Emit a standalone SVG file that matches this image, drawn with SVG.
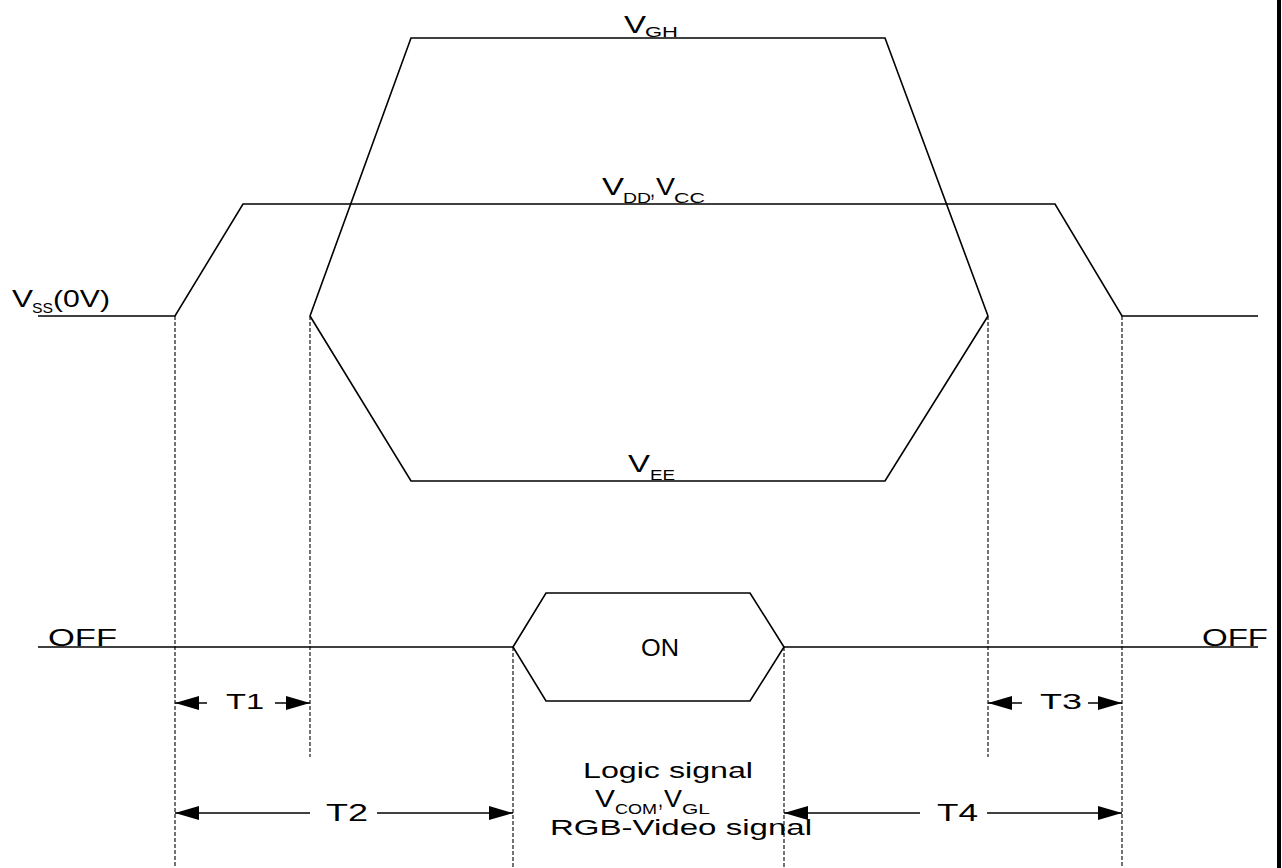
<svg xmlns="http://www.w3.org/2000/svg" width="1282" height="868" viewBox="0 0 1282 868">
<style>
.w{fill:none;stroke:#000;stroke-width:1.6}
.d{fill:none;stroke:#000;stroke-width:1.1;stroke-dasharray:4 2}
.a{fill:none;stroke:#000;stroke-width:1.5}
text{font-family:"Liberation Sans",Arial,sans-serif;fill:#000}
.m{font-size:24px}
.s{font-size:15px}
.t{font-size:22px}
</style>
<defs>
<marker id="ah" markerUnits="userSpaceOnUse" markerWidth="26" markerHeight="16" refX="24" refY="7" orient="auto">
<path d="M0,0 L24,7 L0,14 Z" fill="#000"/>
</marker>
</defs>
<rect x="0" y="0" width="1282" height="868" fill="#fff"/>
<g id="waveforms">
<polyline class="w" points="38,316 175,316 243,204 1055,204 1122,316 1258,316"/>
<polyline class="w" points="310,316 411,38 885,38 988,316"/>
<polyline class="w" points="310,316 411,481 885,481 988,316"/>
<line class="w" x1="38" y1="647" x2="513" y2="647"/>
<line class="w" x1="784" y1="647" x2="1258" y2="647"/>
</g>
<g id="on-signal">
<polygon class="w" points="513,647 546,593 750,593 784,647 750,701 546,701"/>
<text class="m" x="641" y="656" textLength="38" lengthAdjust="spacingAndGlyphs">ON</text>
</g>
<g id="connectors">
<line class="d" x1="175" y1="316" x2="175" y2="868"/>
<line class="d" x1="310" y1="316" x2="310" y2="757"/>
<line class="d" x1="513" y1="647" x2="513" y2="868"/>
<line class="d" x1="784" y1="647" x2="784" y2="868"/>
<line class="d" x1="988" y1="316" x2="988" y2="757"/>
<line class="d" x1="1122" y1="316" x2="1122" y2="868"/>
<line class="a" x1="207" y1="703" x2="175" y2="703" marker-end="url(#ah)"/>
<line class="a" x1="275" y1="703" x2="310" y2="703" marker-end="url(#ah)"/>
<line class="a" x1="1022" y1="703" x2="988" y2="703" marker-end="url(#ah)"/>
<line class="a" x1="1088" y1="703" x2="1122" y2="703" marker-end="url(#ah)"/>
<line class="a" x1="310" y1="813" x2="175" y2="813" marker-end="url(#ah)"/>
<line class="a" x1="377" y1="813" x2="513" y2="813" marker-end="url(#ah)"/>
<line class="a" x1="920" y1="813" x2="784" y2="813" marker-end="url(#ah)"/>
<line class="a" x1="987" y1="813" x2="1122" y2="813" marker-end="url(#ah)"/>
</g>
<g id="labels">
<text class="m" x="624" y="33" textLength="22" lengthAdjust="spacingAndGlyphs">V</text>
<text class="s" x="645" y="37" textLength="33" lengthAdjust="spacingAndGlyphs">GH</text>
<text class="m" x="602" y="195" textLength="22" lengthAdjust="spacingAndGlyphs">V</text>
<text class="s" x="623" y="203" textLength="28" lengthAdjust="spacingAndGlyphs">DD</text>
<text class="m" x="650" y="197" textLength="5" lengthAdjust="spacingAndGlyphs">,</text>
<text class="m" x="656" y="195" textLength="19" lengthAdjust="spacingAndGlyphs">V</text>
<text class="s" x="674" y="203" textLength="31" lengthAdjust="spacingAndGlyphs">CC</text>
<text class="m" x="628" y="472" textLength="22" lengthAdjust="spacingAndGlyphs">V</text>
<text class="s" x="650" y="480" textLength="25" lengthAdjust="spacingAndGlyphs">EE</text>
<text class="m" x="12" y="307" textLength="21" lengthAdjust="spacingAndGlyphs">V</text>
<text class="s" x="32" y="313" textLength="21" lengthAdjust="spacingAndGlyphs">SS</text>
<text class="m" x="53" y="307" textLength="57" lengthAdjust="spacingAndGlyphs">(0V)</text>
<text class="m" x="48" y="646" textLength="69" lengthAdjust="spacingAndGlyphs">OFF</text>
<text class="m" x="1202" y="646" textLength="66" lengthAdjust="spacingAndGlyphs">OFF</text>
<text class="t" x="226" y="709" textLength="38" lengthAdjust="spacingAndGlyphs">T1</text>
<text class="t" x="1040" y="709" textLength="42" lengthAdjust="spacingAndGlyphs">T3</text>
<text class="m" x="326" y="821" textLength="42" lengthAdjust="spacingAndGlyphs">T2</text>
<text class="m" x="937" y="821" textLength="41" lengthAdjust="spacingAndGlyphs">T4</text>
<text class="t" x="583" y="778" textLength="170" lengthAdjust="spacingAndGlyphs">Logic signal</text>
<text class="m" x="595" y="807" textLength="20" lengthAdjust="spacingAndGlyphs">V</text>
<text class="s" x="615" y="814" textLength="42" lengthAdjust="spacingAndGlyphs">COM</text>
<text class="m" x="658" y="807" textLength="5" lengthAdjust="spacingAndGlyphs">,</text>
<text class="m" x="664" y="807" textLength="18" lengthAdjust="spacingAndGlyphs">V</text>
<text class="s" x="682" y="814" textLength="28" lengthAdjust="spacingAndGlyphs">GL</text>
<text class="t" x="550" y="835" textLength="262" lengthAdjust="spacingAndGlyphs">RGB-Video signal</text>
</g>
<rect x="1277" y="0" width="4" height="868" fill="#000"/>
</svg>
